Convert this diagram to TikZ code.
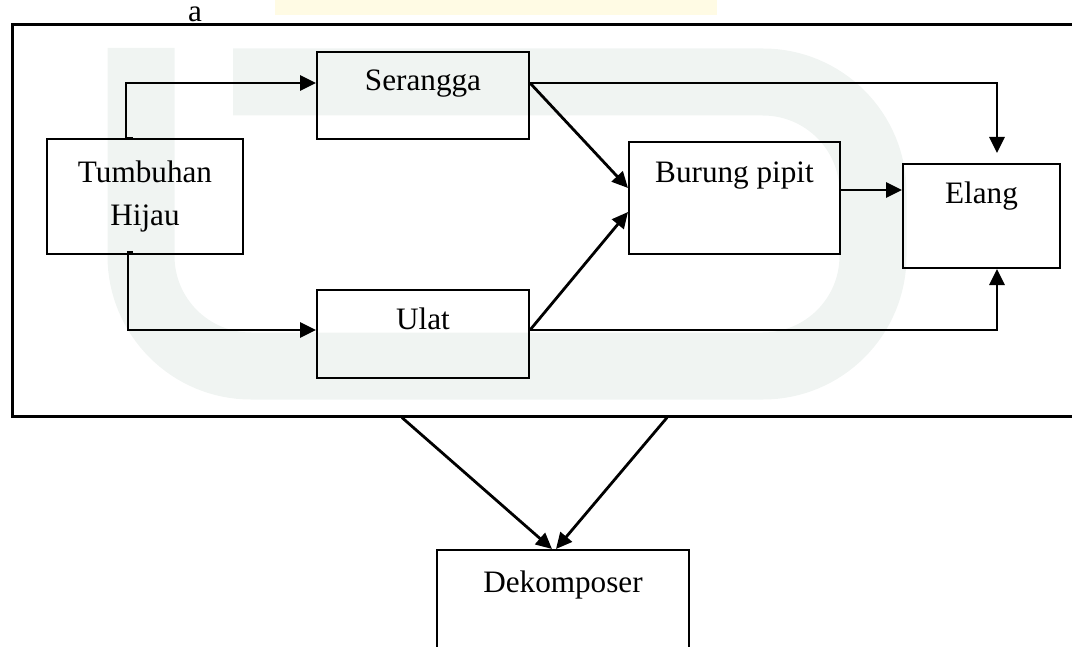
\documentclass[tikz,border=0pt]{standalone}
\usepackage{fontspec}
\setmainfont{Liberation Serif}
\usetikzlibrary{arrows.meta,calc,positioning}
\definecolor{wmGray}{RGB}{240,244,242}
\definecolor{wmYellow}{RGB}{255,251,228}

\begin{document}
\begin{tikzpicture}[x=0.5pt, y=-0.5pt,
    every node/.style={font=\fontsize{15.6}{21.5}\selectfont},
    box/.style={draw, line width=1pt, inner sep=0pt, anchor=north west},
    feedArrow/.style={-{Triangle[length=8pt, width=7.5pt]}, line width=1.4pt}]

\clip (0,0) rectangle (1072,647);

% Faint watermark behind the chart
\fill[wmYellow] (275,0) rectangle (717,15);
\draw[wmGray, line width=33.5pt, rounded corners=55pt] (141,48) -- (141,366) -- (873,366) -- (873,82) -- (233,82);

% Ecosystem frame
\node[box, line width=1.3pt, minimum width=545pt, minimum height=196pt] (frame) at (11,23) {};
\node[anchor=base] (lblA) at (195,22) {a};

% Producers and consumers
\node[box, minimum width=98pt, minimum height=57.5pt, align=center] (tumbuhan) at (46,138) {Tumbuhan\\Hijau};
\node[box, minimum width=106pt, text height=19.5pt, text depth=24pt] (serangga) at (316,51) {Serangga};
\node[box, minimum width=106pt, text height=19.5pt, text depth=24.5pt] (ulat) at (316,289) {Ulat};
\node[box, minimum width=105.5pt, text height=20.5pt, text depth=35.5pt] (burung) at (628,141) {Burung pipit};
\node[box, minimum width=78.5pt, text height=20pt, text depth=32pt] (elang) at (902,163) {Elang};
\node[box, minimum width=126pt, text height=21pt, text depth=30pt] (dekomposer) at (436,549) {Dekomposer};

% Tumbuhan Hijau
\draw[feedArrow] ([xshift=43.5pt]tumbuhan.north west) -- ++(-3.5pt,0) |- ([yshift=-16pt]serangga.north west);
\draw[feedArrow] ([xshift=43.5pt, yshift=1.5pt]tumbuhan.south west) -- ++(-2.5pt,0) |- ([yshift=-20.5pt]ulat.north west);

% Serangga
\draw[feedArrow] ([yshift=-16pt]serangga.north east) -- ([yshift=-23.5pt]burung.north west);
\draw[feedArrow, shorten >=5pt] ([yshift=-16pt]serangga.north east) -| ([xshift=47.5pt]elang.north west);

% Ulat
\draw[feedArrow] ([yshift=-20.5pt]ulat.north east) -- ([yshift=-35.5pt]burung.north west);
\draw[feedArrow] ([yshift=-20.5pt]ulat.north east) -| ([xshift=47.5pt]elang.south west);

% Burung pipit
\draw[feedArrow] ([yshift=-24.5pt]burung.north east) -- ([yshift=-13.5pt]elang.north west);

% everything ends in Dekomposer
\draw[feedArrow] ([xshift=195.5pt]frame.south west) -- ([xshift=58pt]dekomposer.north west);
\draw[feedArrow] ([xshift=328pt]frame.south west) -- ([xshift=60pt]dekomposer.north west);

\end{tikzpicture}
\end{document}
